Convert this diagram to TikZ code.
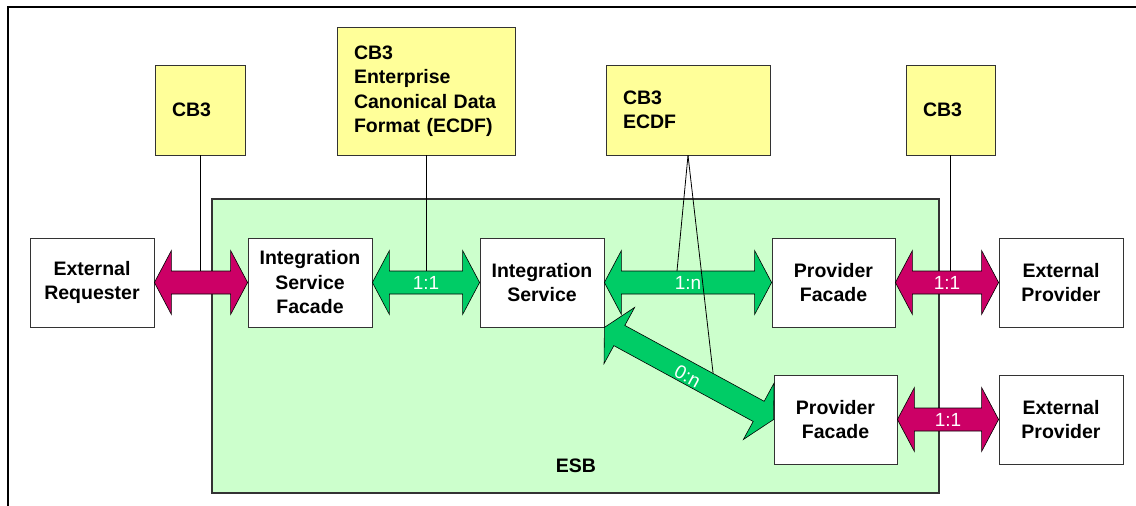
\documentclass[tikz,border=0pt]{standalone}
\usepackage{fontspec}
\setmainfont{Liberation Sans}
\usetikzlibrary{calc}
\definecolor{cbyellow}{HTML}{FFFF99}
\definecolor{esbgreen}{HTML}{CCFFCC}
\definecolor{arrgreen}{HTML}{00CC66}
\definecolor{arrmag}{HTML}{CC0066}
\definecolor{edgegray}{HTML}{333333}
\newcommand\dblarrow[3]{%
  \filldraw[arrowshape, fill=#3]
    (#1) -- ($(#1)!17pt!(#2)!32pt!90:(#2)$) -- ($(#1)!17pt!(#2)!11.5pt!90:(#2)$)
    -- ($(#2)!17pt!(#1)!11.5pt!-90:(#1)$) -- ($(#2)!17pt!(#1)!32pt!-90:(#1)$)
    -- (#2) -- ($(#2)!17pt!(#1)!32pt!90:(#1)$) -- ($(#2)!17pt!(#1)!11.5pt!90:(#1)$)
    -- ($(#1)!17pt!(#2)!11.5pt!-90:(#2)$) -- ($(#1)!17pt!(#2)!32pt!-90:(#2)$) -- cycle;}
\tikzset{
  boxfont/.style={font=\bfseries\fontsize{19.5}{24.5}\selectfont},
  wbox/.style={draw=edgegray, fill=white, line width=0.8pt, boxfont, align=center,
    minimum width=124pt, minimum height=89pt, inner sep=0pt},
  ybox/.style={draw=edgegray, fill=cbyellow, line width=0.8pt, boxfont, align=left,
    inner xsep=17pt, inner ysep=0pt},
  esbbox/.style={draw=edgegray, fill=esbgreen, line width=1.2pt, inner sep=0pt},
  arrowshape/.style={draw=black, line width=0.6pt, line join=miter},
  cbline/.style={draw=black, line width=0.8pt},
  lbl/.style={text=white, font=\fontsize{19}{19}\selectfont, inner sep=0pt},
  frameline/.style={draw=black, line width=1.5pt}
}
\begin{document}
\begin{tikzpicture}[x=1pt,y=-1pt]
\useasboundingbox (0,0) rectangle (1136,506);
\draw[frameline] (8,506) -- (8,7) -- (1136,7);
% ESB container
\node[esbbox, minimum width=727pt, minimum height=294pt] (esb) at (575.5,346) {};
\node[boxfont, inner sep=0pt] (esblbl) at (576,466) {ESB};
% CB3 boxes
\node[ybox, text width=56pt, minimum height=90pt] (cbA) at (200,110) {CB3};
\node[ybox, text width=144pt, minimum height=128pt] (cbB) at (426,91)
  {CB3\\Enterprise\\Canonical Data\\Format (ECDF)};
\node[ybox, text width=130pt, minimum height=90pt] (cbC) at (688,110) {CB3\\ECDF};
\node[ybox, text width=55pt, minimum height=90pt] (cbD) at (950.5,110) {CB3};
% main boxes
\node[wbox] (extreq) at (92,282.5) {External\\Requester};
\node[wbox] (isf) at (310,282.5) {Integration\\Service\\Facade};
\node[wbox] (is) at (542,282.5) {Integration\\Service};
\node[wbox, minimum width=123pt] (pf1) at (833.5,282.5) {Provider\\Facade};
\node[wbox, minimum width=123pt] (pf2) at (835.5,419.5) {Provider\\Facade};
\node[wbox] (ep1) at (1061,282.5) {External\\Provider};
\node[wbox] (ep2) at (1061,419.5) {External\\Provider};
% arrows
\dblarrow{extreq.east}{isf.west}{arrmag}
\dblarrow{isf.east}{is.west}{arrgreen}
\dblarrow{is.east}{pf1.west}{arrgreen}
\dblarrow{is.south east}{pf2.west}{arrgreen}
\dblarrow{pf1.east}{ep1.west}{arrmag}
\dblarrow{pf2.east}{ep2.west}{arrmag}
% junction points
\coordinate (jA) at ($(extreq.east)!0.5!(isf.west)+(0,-11.5)$);
\coordinate (jB) at ($(isf.east)!0.5!(is.west)+(0,-11.5)$);
\coordinate (jC) at ($(is.east)!0.5!(pf1.west)+(-11,-11.5)$);
\coordinate (jE) at ($(is.south east)!0.61!(pf2.west)!11.5pt!90:(pf2.west)$);
\coordinate (jD) at ($(pf1.east)!0.5!(ep1.west)+(0,-11.5)$);
% connector lines
\draw[cbline] (cbA.south) -- (cbA.south |- jA);
\draw[cbline] (cbB.south) -- (cbB.south |- jB);
\draw[cbline] (cbC.south) -- (jC);
\draw[cbline] (cbC.south) -- (jE);
\draw[cbline] (cbD.south) -- (cbD.south |- jD);
% labels
\node[lbl] (l1) at ($(isf.east)!0.5!(is.west)$) {1:1};
\node[lbl] (l2) at ($(is.east)!0.5!(pf1.west)$) {1:n};
\path (is.south east) -- node[lbl, sloped, yshift=-3pt] (l3) {0:n} (pf2.west);
\node[lbl] (l4) at ($(pf1.east)!0.5!(ep1.west)$) {1:1};
\node[lbl] (l5) at ($(pf2.east)!0.5!(ep2.west)$) {1:1};
\end{tikzpicture}
\end{document}
